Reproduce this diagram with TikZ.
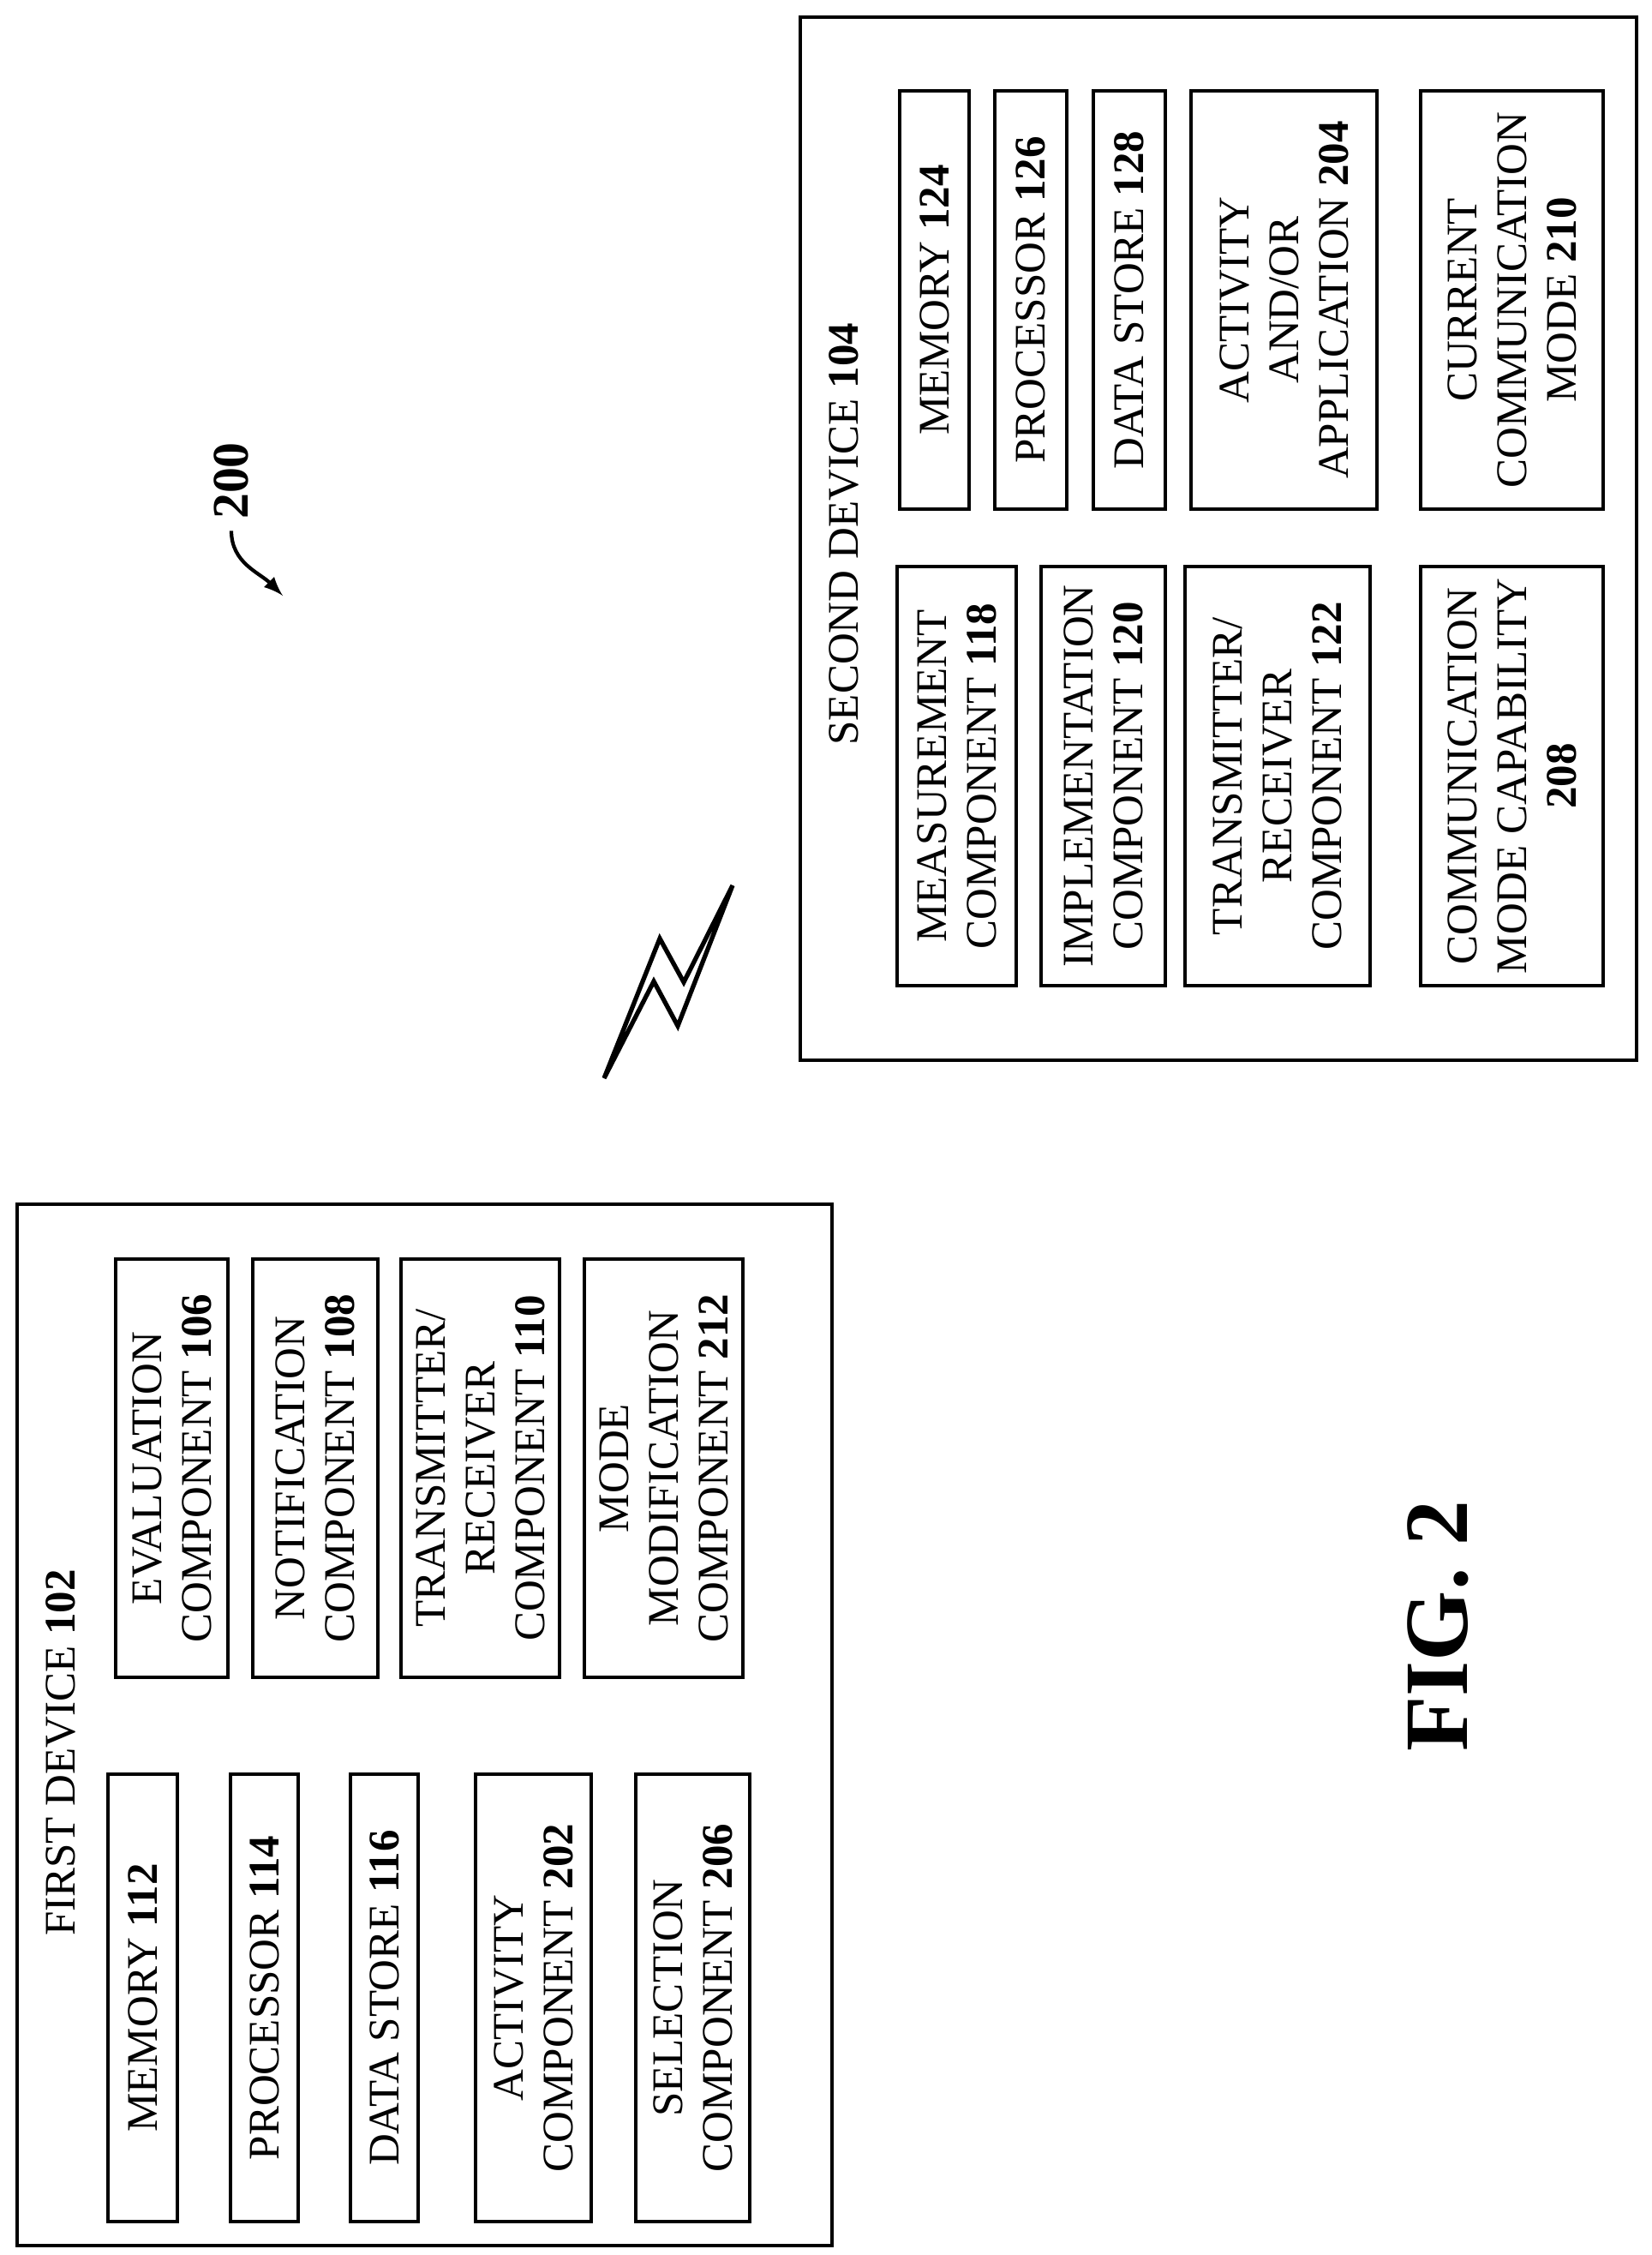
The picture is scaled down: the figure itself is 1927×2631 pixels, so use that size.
\documentclass[tikz,border=0pt]{standalone}
\usepackage{fontspec}
\setmainfont{Liberation Serif}
\usepackage{tikz}

\tikzset{
  comp/.style={draw, line width=1pt, rotate=90, align=center, inner sep=1pt,
    font=\fontsize{14.5}{16.5}\selectfont},
  dev/.style={draw, line width=1pt}
}

\begin{document}
\begin{tikzpicture}[x=0.01cm, y=-0.01cm, line width=1pt]
    \useasboundingbox (0,0) rectangle (1927,2631);

    % first device
    \draw[dev] (20,1405) rectangle (971,2620);
    \node[rotate=90, font=\fontsize{14.5}{16.5}\selectfont]  (FD)  at (71,2045)  {FIRST DEVICE \textbf{102}};

    \node[comp, minimum width=5.22cm, minimum height=0.81cm]  (M1)  at (166.5,2331)  {MEMORY \textbf{112}};
    \node[comp, minimum width=5.22cm, minimum height=0.79cm]  (P1)  at (308.5,2331)  {PROCESSOR \textbf{114}};
    \node[comp, minimum width=5.22cm, minimum height=0.79cm]  (D1)  at (448.5,2331)  {DATA STORE \textbf{116}};
    \node[comp, minimum width=5.22cm, minimum height=1.35cm]  (A1)  at (622.5,2331)  {ACTIVITY \\ COMPONENT \textbf{202}};
    \node[comp, minimum width=5.22cm, minimum height=1.33cm]  (S1)  at (808.5,2331)  {SELECTION \\ COMPONENT \textbf{206}};

    \node[comp, minimum width=4.88cm, minimum height=1.31cm]  (E1)  at (200.5,1713)  {EVALUATION \\ COMPONENT \textbf{106}};
    \node[comp, minimum width=4.88cm, minimum height=1.46cm]  (N1)  at (368,1713)    {NOTIFICATION \\ COMPONENT \textbf{108}};
    \node[comp, minimum width=4.88cm, minimum height=1.85cm]  (T1)  at (560.5,1713)  {TRANSMITTER/ \\ RECEIVER \\ COMPONENT \textbf{110}};
    \node[comp, minimum width=4.88cm, minimum height=1.85cm]  (MM)  at (774.5,1713)  {MODE \\ MODIFICATION \\ COMPONENT \textbf{212}};

    % second device
    \draw[dev] (934,20) rectangle (1910,1237);
    \node[rotate=90, font=\fontsize{14.5}{16.5}\selectfont]  (SD)  at (985,623)  {SECOND DEVICE \textbf{104}};

    \node[comp, minimum width=4.89cm, minimum height=1.39cm]  (ME)  at (1116.5,905.5)  {MEASUREMENT \\ COMPONENT \textbf{118}};
    \node[comp, minimum width=4.89cm, minimum height=1.45cm]  (IM)  at (1287.5,905.5)  {IMPLEMENTATION \\ COMPONENT \textbf{120}};
    \node[comp, minimum width=4.89cm, minimum height=2.16cm]  (T2)  at (1491,905.5)    {TRANSMITTER/ \\ RECEIVER \\ COMPONENT \textbf{122}};
    \node[comp, minimum width=4.89cm, minimum height=2.13cm]  (CM)  at (1764.5,905.5)  {COMMUNICATION \\ MODE CAPABILITY \\ \textbf{208}};

    \node[comp, minimum width=4.88cm, minimum height=0.81cm]  (M2)  at (1090.5,350)  {MEMORY \textbf{124}};
    \node[comp, minimum width=4.88cm, minimum height=0.84cm]  (P2)  at (1203,350)    {PROCESSOR \textbf{126}};
    \node[comp, minimum width=4.88cm, minimum height=0.84cm]  (D2)  at (1318,350)    {DATA STORE \textbf{128}};
    \node[comp, minimum width=4.88cm, minimum height=2.17cm]  (AA)  at (1498.5,350)  {ACTIVITY \\ AND/OR \\ APPLICATION \textbf{204}};
    \node[comp, minimum width=4.88cm, minimum height=2.13cm]  (CC)  at (1764.5,350)  {CURRENT \\ COMMUNICATION \\ MODE \textbf{210}};

    % reference label and wireless link
    \node[rotate=90, font=\fontsize{17}{19}\selectfont\bfseries]  (L200)  at (270,561)  {200};
    \coordinate (L200e) at (330,695);
    \draw[-latex, line width=1.2pt] (L200.west) to[out=-90, in=135] (L200e);

    \draw[line width=1.5pt, line join=miter] (705,1258) -- (770,1095) -- (798,1146) -- (855,1033)
        -- (791,1197) -- (763,1145) -- cycle;

    \node[rotate=90, font=\fontsize{30}{34}\selectfont\bfseries]  (FIG)  at (1678,1897)  {FIG. 2};
\end{tikzpicture}
\end{document}
